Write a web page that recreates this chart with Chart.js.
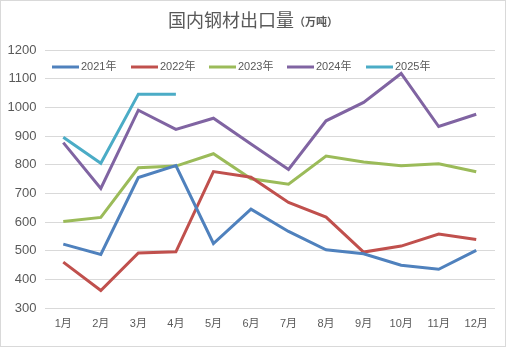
<!DOCTYPE html>
<html>
<head>
<meta charset="utf-8">
<script src="https://cdn.jsdelivr.net/npm/chart.js@4/dist/chart.umd.min.js"></script>
<style>
  html, body { margin: 0; padding: 0; background: #fff; }
  #wrap { width: 506px; height: 347px; }
</style>
</head>
<body>
<div id="wrap"><canvas id="myChart" width="506" height="347"></canvas></div>
<script>
// monthly steel exports, 10k tonnes
var months = ['1月', '2月', '3月', '4月', '5月', '6月', '7月', '8月', '9月', '10月', '11月', '12月'];
var y2021 = [523, 487, 755, 797, 525, 645, 567, 503, 489, 449, 435, 501];
var y2022 = [460, 361, 492, 496, 776, 756, 668, 617, 495, 516, 558, 539];
var y2023 = [602, 616, 789, 795, 838, 751, 732, 830, 809, 796, 803, 775];
var y2024 = [877, 717, 990, 923, 962, 872, 783, 953, 1017, 1118, 933, 976];
var y2025 = [896, 805, 1046, 1046];
var yTicks = [300, 400, 500, 600, 700, 800, 900, 1000, 1100, 1200];

var seriesNames = ['2021年', '2022年', '2023年', '2024年', '2025年'];
var seriesColors = ['#4F81BD', '#C0504D', '#9BBB59', '#8064A2', '#4BACC6'];
var seriesData = [y2021, y2022, y2023, y2024, y2025];

var FONT = '"Liberation Sans", "Noto Sans CJK SC", sans-serif';
var CJK = '"Noto Sans CJK SC", sans-serif';

// white background, thin frame and the two-size title
var frame = {
    id: 'frame',
    beforeDraw: function (chart) {
        var c = chart.ctx;
        c.save();
        c.fillStyle = '#fff';
        c.fillRect(0, 0, chart.width, chart.height);
        c.strokeStyle = '#d9d9d9';
        c.lineWidth = 1;
        c.strokeRect(0.5, 0.5, chart.width - 1, chart.height - 1);

        var big = '国内钢材出口量', small = '（万吨）';
        c.fillStyle = '#595959';
        c.textBaseline = 'alphabetic';
        c.font = '18px ' + CJK;
        var w1 = c.measureText(big).width;
        c.font = 'bold 11px ' + CJK;
        var w2 = c.measureText(small).width;
        var x = 253 - (w1 + w2) / 2;
        c.font = '18px ' + CJK;
        c.fillText(big, x, 27);
        c.font = 'bold 11px ' + CJK;
        c.fillText(small, x + w1, 26);
        c.restore();
    }
};

// legend sits inside the plot, just under the top gridline
var legendX = [52, 131, 209, 287, 366];
var innerLegend = {
    id: 'innerLegend',
    afterDatasetsDraw: function (chart) {
        var c = chart.ctx;
        var y = 67;
        c.save();
        c.font = '11px ' + FONT;
        c.textBaseline = 'middle';
        chart.data.datasets.forEach(function (ds, i) {
            var x = legendX[i];
            c.strokeStyle = ds.borderColor;
            c.lineWidth = 3;
            c.beginPath();
            c.moveTo(x, y);
            c.lineTo(x + 27, y);
            c.stroke();
            c.fillStyle = '#595959';
            c.fillText(ds.label, x + 29, y);
        });
        c.restore();
    }
};

var datasets = seriesNames.map(function (name, i) {
    return {
        label: name,
        data: seriesData[i],
        borderColor: seriesColors[i],
        backgroundColor: seriesColors[i],
        borderWidth: 3,
        pointRadius: 0,
        tension: 0,
        fill: false
    };
});

var ctx = document.getElementById('myChart').getContext('2d');
var chart = new Chart(ctx, {
    type: 'line',
    data: { labels: months, datasets: datasets },
    options: {
        responsive: false,
        animation: false,
        layout: { padding: { top: 50, right: 11, bottom: 9, left: 0 } },
        plugins: { legend: { display: false }, title: { display: false }, tooltip: { enabled: false } },
        scales: {
            x: {
                offset: true,
                grid: { display: false, drawTicks: false },
                border: { display: false },
                ticks: { color: '#595959', font: { size: 11, family: FONT }, padding: 9, maxRotation: 0 },
                afterFit: function (s) { s.height = 30; }
            },
            y: {
                min: 300,
                max: 1200,
                afterBuildTicks: function (s) { s.ticks = yTicks.map(function (v) { return { value: v }; }); },
                grid: { color: '#d9d9d9', lineWidth: 1, drawTicks: false },
                border: { display: false },
                ticks: {
                    color: '#595959',
                    font: { size: 13, family: FONT },
                    padding: 8,
                    callback: function (v) { return String(v); }
                },
                afterFit: function (s) { s.width = 44.5; }
            }
        }
    },
    plugins: [frame, innerLegend]
});
</script>
</body>
</html>
